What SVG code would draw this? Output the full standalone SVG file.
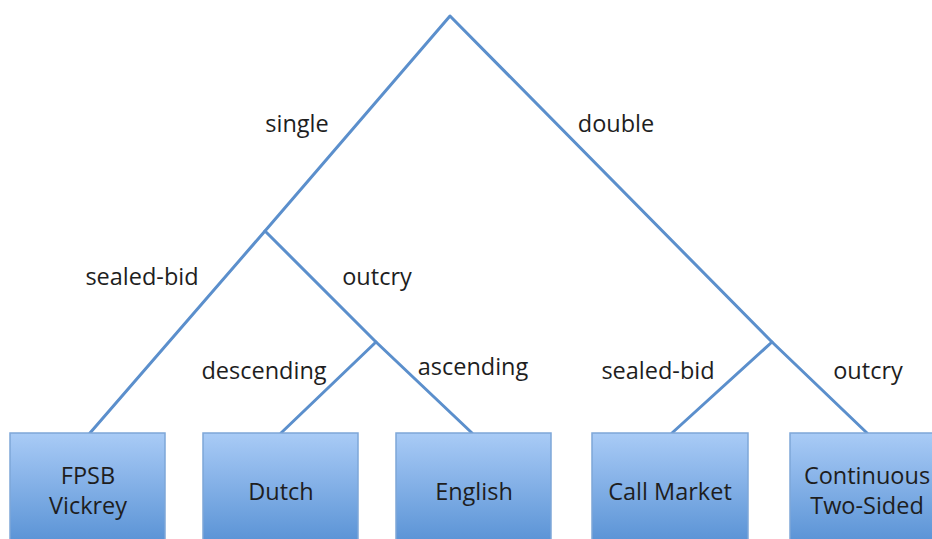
<svg xmlns="http://www.w3.org/2000/svg" width="932" height="539" viewBox="0 0 932 539">
<defs>
<linearGradient id="g" x1="0" y1="0" x2="0" y2="1">
<stop offset="0" stop-color="#a9cbf6"/>
<stop offset="1" stop-color="#5690d4"/>
</linearGradient>
<style>
.e{fill:none;stroke:#5b8fcc;stroke-width:3;stroke-linecap:round;stroke-linejoin:round}
.b{fill:url(#g);stroke:#7ea7d8;stroke-width:1.5}
.t{font-family:"Open Sans","Liberation Sans",sans-serif;font-size:23.5px;fill:#1e1e1e;text-anchor:middle}
</style>
</defs>
<rect width="932" height="539" fill="#fff"/>
<g id="connectors">
<polyline class="e" points="90,433 265,231 450,16 772,342 867,433"/>
<polyline class="e" points="265,231 376,342 472,433"/>
<line class="e" x1="376" y1="342" x2="281" y2="433"/>
<line class="e" x1="772" y1="342" x2="672" y2="433"/>
</g>
<g id="edge-labels">
<text class="t" x="297" y="132">single</text>
<text class="t" x="616" y="132">double</text>
<text class="t" x="142" y="285">sealed-bid</text>
<text class="t" x="377" y="285">outcry</text>
<text class="t" x="264" y="379">descending</text>
<text class="t" x="473" y="375">ascending</text>
<text class="t" x="658" y="379">sealed-bid</text>
<text class="t" x="868" y="379">outcry</text>
</g>
<g id="fpsb"><rect class="b" x="10" y="433" width="155" height="115"/><text class="t" x="88" y="484">FPSB</text><text class="t" x="88" y="514">Vickrey</text></g>
<g id="dutch"><rect class="b" x="203" y="433" width="155" height="115"/><text class="t" x="281" y="500">Dutch</text></g>
<g id="english"><rect class="b" x="396" y="433" width="155" height="115"/><text class="t" x="474" y="500">English</text></g>
<g id="call"><rect class="b" x="592" y="433" width="156" height="115"/><text class="t" x="670" y="500">Call Market</text></g>
<g id="continuous"><rect class="b" x="790" y="433" width="155" height="115"/><text class="t" x="867" y="484">Continuous</text><text class="t" x="867" y="514">Two-Sided</text></g>
</svg>
